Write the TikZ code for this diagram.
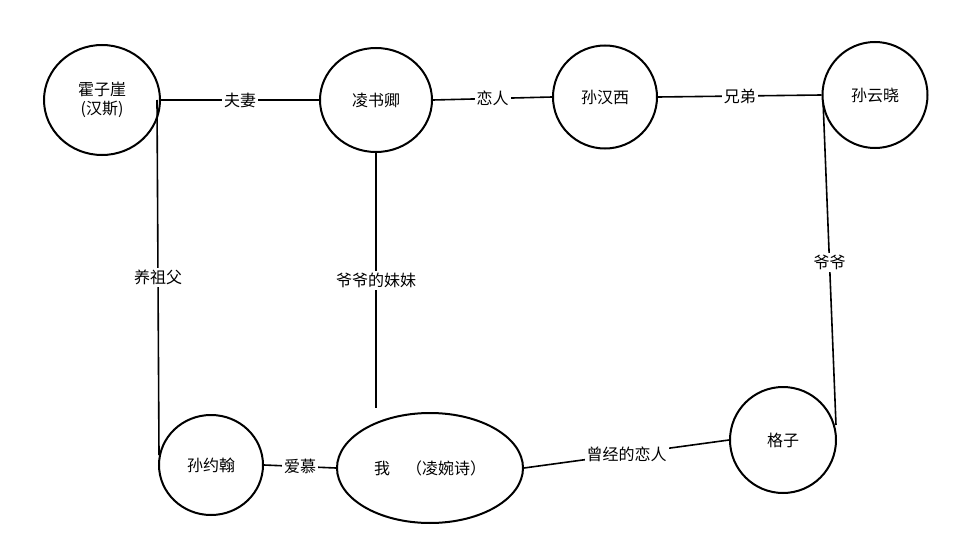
\documentclass[tikz,border=0pt]{standalone}
\usepackage{fontspec}
\setmainfont{Noto Sans CJK SC}
\usetikzlibrary{calc, shapes.geometric}

\tikzset{
    person/.style={draw, line width=2pt, ellipse, inner sep=0pt, font=\fontsize{16}{19}\selectfont},
    rel/.style={line width=1.6pt},
    tag/.style={fill=white, inner sep=2pt, font=\fontsize{16}{19}\selectfont}
}

\begin{document}
\begin{tikzpicture}[x=1pt, y=-1pt]
    \useasboundingbox (0,0) rectangle (962,543);

    \node[person, minimum width=116pt, minimum height=110pt, align=center] (huo) at (102,100) {霍子崖\\(汉斯)};
    \node[person, minimum width=112pt, minimum height=104pt] (ling) at (376,100) {凌书卿};
    \node[person, minimum width=104pt, minimum height=103pt] (hanxi) at (605,97) {孙汉西};
    \node[person, minimum width=105pt, minimum height=106pt] (yun) at (875,95) {孙云晓};
    \node[person, minimum width=106pt, minimum height=106pt] (gezi) at (783,440) {格子};
    \node[person, minimum width=104pt, minimum height=100pt] (john) at (211,465) {孙约翰};
    \node[person, minimum width=186pt, minimum height=110pt] (me) at (430,468) {我\quad（凌婉诗）};

    \coordinate (huoR) at (157,100);
    \coordinate (johnL) at (159,455);
    \coordinate (lingB) at (376,408);
    \coordinate (yunL) at (823,100);
    \coordinate (geziR) at (836,425);

    \draw[rel] (huo.east) -- node[tag] {夫妻} (ling.west);
    \draw[rel] (ling.east) -- node[tag] {恋人} (hanxi.west);
    \draw[rel] (hanxi.east) -- node[tag] {兄弟} (yun.west);
    \draw[rel] (yunL) -- node[tag] {爷爷} (geziR);
    \draw[rel] (huoR) -- node[tag] {养祖父} (johnL);
    \draw[rel] (ling.south) -- node[tag] {爷爷的妹妹} (lingB);
    \draw[rel] (john.east) -- node[tag] {爱慕} (me.west);
    \draw[rel] (me.east) -- node[tag] {曾经的恋人} (gezi.west);
\end{tikzpicture}
\end{document}
